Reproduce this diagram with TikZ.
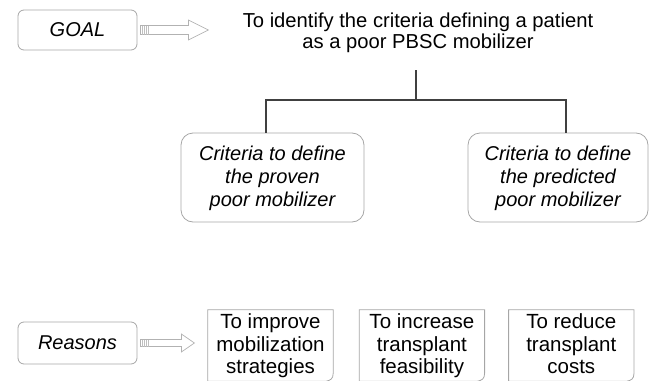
\documentclass[tikz,border=0pt]{standalone}
\usepackage{fontspec}
\setmainfont{Liberation Sans}
\usetikzlibrary{positioning}

% hollow block arrow leaving the east side of a node
% #1 node, #2 length, #3 shaft half width, #4 head half width, #5 head length
\newcommand{\hollowarrow}[5]{%
  \draw[arrowline] ([xshift=3pt]#1.east) ++(0,#3) -- ++({#2-#5},0) -- ++(0,{#4-#3})
    -- ++(#5,{-#4}) -- ++({-#5},{-#4}) -- ++(0,{#4-#3}) -- ++({#5-#2},0) -- cycle;
  \foreach \i in {2,4,6,8}
    \draw[hatchline] ([xshift={3pt+\i pt}]#1.east) ++(0,#3) -- ++(0,{-2*#3});
}

\begin{document}
\begin{tikzpicture}[x=1pt,y=-1pt,
  goalbox/.style={draw=gray!70, line width=0.8pt, rounded corners=6pt,
    minimum width=119pt, minimum height=40pt,
    font=\fontsize{20}{22}\selectfont\itshape},
  critbox/.style={draw=gray!70, line width=0.8pt, rounded corners=12pt,
    minimum width=183pt, minimum height=89pt, align=center,
    font=\fontsize{20}{23}\selectfont\itshape},
  notebox/.style={minimum width=125pt, minimum height=71pt, inner sep=0pt},
  notetext/.style={align=center, inner sep=0pt, anchor=north,
    font=\fontsize{20.5}{22.5}\selectfont},
  noteline/.style={draw=gray!70, line width=0.8pt},
  treeline/.style={draw=black!75, line width=1.1pt},
  arrowline/.style={draw=gray!60, line width=0.7pt, fill=white},
  hatchline/.style={draw=gray!50, line width=0.6pt}]
  \useasboundingbox (0,0) rectangle (655,380);
  \clip (0,0) rectangle (655,380);

  % goal
  \node[goalbox] (goal) at (77.5,30) {GOAL};
  \node[align=center, font=\fontsize{20.2}{21.5}\selectfont] (aim) at (418,33)
    {To identify the criteria defining a patient\\as a poor PBSC mobilizer};
  \hollowarrow{goal}{68}{4.5}{10}{20}

  % the two criteria
  \node[critbox] (proven) at (272.5,177.5) {\strut Criteria to define\\the proven\\poor mobilizer};
  \node[critbox, minimum width=180pt] (predicted) at (558,177.5) {\strut Criteria to define\\the predicted\\poor mobilizer};
  \coordinate (stem) at (416,70);
  \coordinate (fork) at (416,100);
  \draw[treeline] (stem) -- (fork);
  \draw[treeline] (fork) -| ([xshift=-6.5pt]proven.north);
  \draw[treeline] (fork) -| ([xshift=8pt]predicted.north);

  % reasons
  \node[goalbox, minimum height=42pt] (reasons) at (77.5,343) {Reasons};
  \hollowarrow{reasons}{54}{3.5}{9}{13}
  \node[notebox] (improve) at (270.5,345.5) {};
  \node[notebox, right=26pt of improve] (increase) {};
  \node[notebox, right=24pt of increase] (reduce) {};
  \foreach \n/\txt in {improve/{To improve\\mobilization\\strategies},
                       increase/{To increase\\transplant\\feasibility},
                       reduce/{To reduce\\transplant\\costs}}{
    \draw[noteline] (\n.south west) -- (\n.north west) -- (\n.north east)
      -- ([yshift=8pt]\n.south east)
      .. controls ([yshift=2pt]\n.south east) and ([xshift=-3pt,yshift=1pt]\n.south east) .. ([xshift=-7pt]\n.south east)
      -- cycle;
    \node[notetext] (\n text) at ([yshift=-4pt]\n.north) {\txt};
  }
\end{tikzpicture}
\end{document}
